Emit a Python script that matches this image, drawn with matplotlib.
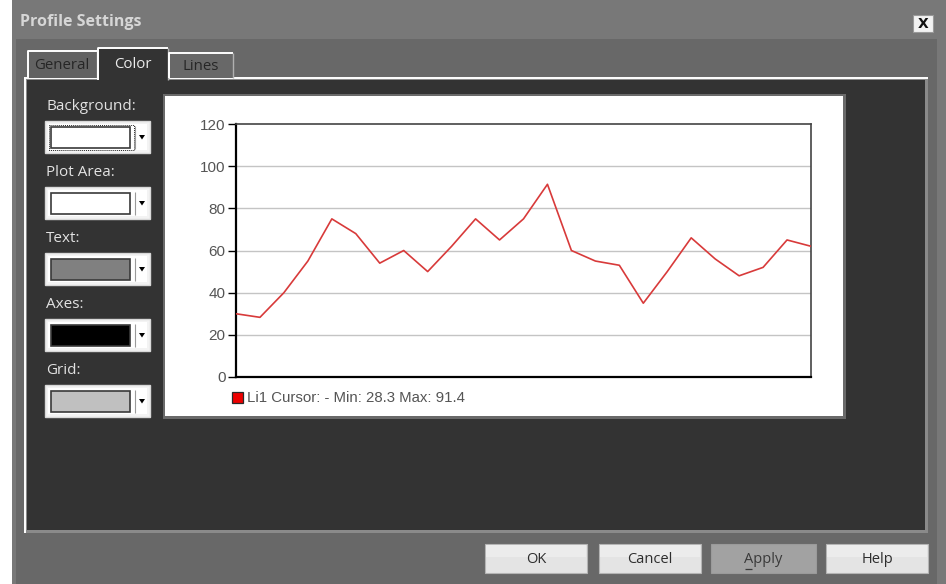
import matplotlib
matplotlib.use('Agg')
import matplotlib.pyplot as plt
from matplotlib.patches import Rectangle, Polygon

W, H = 946, 584

# ---- data ----
values = [30, 28.3, 40, 55, 75, 68, 54, 60, 50, 62, 75, 65, 75, 91.4,
          60, 55, 53, 35, 50, 66, 56, 48, 52, 65, 62]
y_ticks = [0, 20, 40, 60, 80, 100, 120]
series_name = "Li1"
title_text = "Profile Settings"
tab_labels = ["General", "Color", "Lines"]
setting_labels = ["Background:", "Plot Area:", "Text:", "Axes:", "Grid:"]
setting_colors = ["#ffffff", "#ffffff", "#808080", "#000000", "#c0c0c0"]
button_labels = ["OK", "Cancel", "Apply", "Help"]

UI_FONT = ["Open Sans", "DejaVu Sans"]
CHART_FONT = ["Liberation Sans", "DejaVu Sans"]

fig = plt.figure(figsize=(W / 100, H / 100), dpi=100)
bg = fig.add_axes([0, 0, 1, 1])
bg.set_xlim(0, W)
bg.set_ylim(H, 0)
bg.axis('off')


def rect(x0, y0, x1, y1, fc, ec='none', lw=0, z=1, **kw):
    bg.add_patch(Rectangle((x0, y0), x1 - x0, y1 - y0, facecolor=fc,
                           edgecolor=ec, linewidth=lw, zorder=z, **kw))


def line(xs, ys, c, lw=1.0, z=2, **kw):
    bg.plot(xs, ys, color=c, lw=lw, zorder=z, solid_capstyle='butt', **kw)


# ---- window ----
rect(0, 0, 12, H, '#ffffff')
rect(12, 0, W, H, '#787878')
rect(16, 39, 937, H, '#686868')
bg.text(20, 22, title_text, fontsize=11.5, fontweight='bold', color='#d6d6d6',
        family=UI_FONT, va='center', ha='left', zorder=5)
# close button
rect(913, 15, 933, 32, '#f2f2f2', ec='#9a9a9a', lw=0.8, z=3)
bg.text(923, 23.5, "X", fontsize=10, fontweight='bold', color='#111111',
        family=["DejaVu Sans"], ha='center', va='center', zorder=5)

# ---- tab panel ----
rect(24, 77, 928, 533, '#8a8a8a')
rect(27, 80, 925, 530, '#333333')
line([24, 928], [78, 78], '#ffffff', lw=1.4)
line([25, 25], [78, 533], '#ffffff', lw=1.4)

# tabs
tabs = [(27, 50, 97, 78, '#626262', '#262626'),
        (97, 47, 168, 80, '#333333', '#ececec'),
        (168, 52, 233, 78, '#686868', '#262626')]
for (x0, y0, x1, y1, fc, tc), lab in zip(tabs, tab_labels):
    rect(x0, y0, x1, y1, fc, z=2)
    line([x0 + 0.5, x0 + 0.5, x1 - 0.5], [y1, y0 + 0.5, y0 + 0.5], '#ffffff', lw=1.4, z=3)
    line([x1 - 0.5, x1 - 0.5], [y0 + 1, y1], '#b0b0b0', lw=1.0, z=3)
    bg.text((x0 + x1) / 2, (y0 + y1) / 2 + 1.5, lab, fontsize=10.8, color=tc,
            family=UI_FONT, ha='center', va='center', zorder=5)
# selected tab merges with panel
rect(98.5, 76, 167, 81, '#333333', z=4)

# ---- left setting combos ----
combo_tops = [121, 187, 253, 319, 385]
for i, (lab, col, top) in enumerate(zip(setting_labels, setting_colors, combo_tops)):
    bg.text(46, top - 15, lab, fontsize=11, color='#e2e2e2', family=UI_FONT,
            ha='left', va='center', zorder=5)
    rect(45, top, 150, top + 32, '#f3f3f3', ec='#d8d8d8', lw=1, z=3)
    rect(48, top + 3, 147, top + 29, '#ffffff', z=3)
    rect(51, top + 6, 130, top + 27, col, ec='#3a3a3a', lw=1.2, z=4)
    line([135, 135], [top + 5, top + 28], '#9a9a9a', lw=0.8, z=4)
    bg.add_patch(Polygon([[139, top + 14], [145, top + 14], [142, top + 18.5]],
                         closed=True, facecolor='#000000', edgecolor='none', zorder=5))
    if i == 0:
        bg.add_patch(Rectangle((48.5, top + 3.5), 85, 25, facecolor='none',
                               edgecolor='#222222', lw=0.7, ls=(0, (1, 1)), zorder=5))

# ---- chart panel ----
rect(163, 94, 846, 419, '#6a6a6a', z=2)
rect(165, 96, 843, 416, '#ffffff', z=3)

ax_l, ax_r, ax_t, ax_b = 236, 811, 124, 377
ax = fig.add_axes([ax_l / W, 1 - ax_b / H, (ax_r - ax_l) / W, (ax_b - ax_t) / H])
ax.set_zorder(10)
ax.set_facecolor('#ffffff')
x = list(range(len(values)))
ax.plot(x, values, color='#d83a3a', lw=1.2, zorder=3)
ax.set_xlim(0, len(values) - 1)
ax.set_ylim(y_ticks[0], y_ticks[-1])
ax.set_yticks(y_ticks)
ax.set_yticklabels([str(t) for t in y_ticks], family=CHART_FONT, fontsize=11, color='#555555')
ax.set_xticks([])
ax.tick_params(axis='y', direction='out', length=5.5, width=1.0, color='#000000', pad=2)
for t in y_ticks[1:-1]:
    ax.axhline(t, color='#c4c4c4', lw=1.0, zorder=1)
ax.spines['left'].set_color('#000000')
ax.spines['left'].set_linewidth(1.6)
ax.spines['bottom'].set_color('#000000')
ax.spines['bottom'].set_linewidth(1.6)
ax.spines['top'].set_color('#444444')
ax.spines['top'].set_linewidth(1.2)
ax.spines['right'].set_color('#444444')
ax.spines['right'].set_linewidth(1.2)

# legend
rect(232, 392, 243, 403, '#ee0000', ec='#2a2a2a', lw=0.9, z=6)
legend_text = f"{series_name} Cursor: - Min: {min(values):.1f} Max: {max(values):.1f}"
bg.text(247, 398, legend_text, fontsize=10.8, color='#555555', family=CHART_FONT,
        ha='left', va='center', zorder=6)

# ---- buttons ----
buttons = [(485, 587), (599, 701), (711, 816), (826, 928)]
by0, by1 = 544, 573
for (x0, x1), lab in zip(buttons, button_labels):
    if lab == "Apply":
        rect(x0, by0, x1, by1, '#a2a2a2', ec='#9a9a9a', lw=0.8, z=3)
        tc = '#3a3a3a'
    else:
        rect(x0, by0, x1, by1, '#e4e4e4', ec='#b4b4b4', lw=0.8, z=3)
        rect(x0 + 1, by0 + 1, x1 - 1, by0 + 13, '#ececec', z=3)
        tc = '#2e2e2e'
    t = bg.text((x0 + x1) / 2, (by0 + by1) / 2 + 1, lab, fontsize=10.5, color=tc,
                family=UI_FONT, ha='center', va='center', zorder=5)
    if lab == "Apply":
        fig.canvas.draw()
        r = fig.canvas.get_renderer()
        ext = t.get_window_extent(renderer=r)
        xl = ext.x0
        line([xl + 0.5, xl + 8], [568.5, 568.5], tc, lw=0.9, z=6)

fig.savefig('out.png', dpi=100)
